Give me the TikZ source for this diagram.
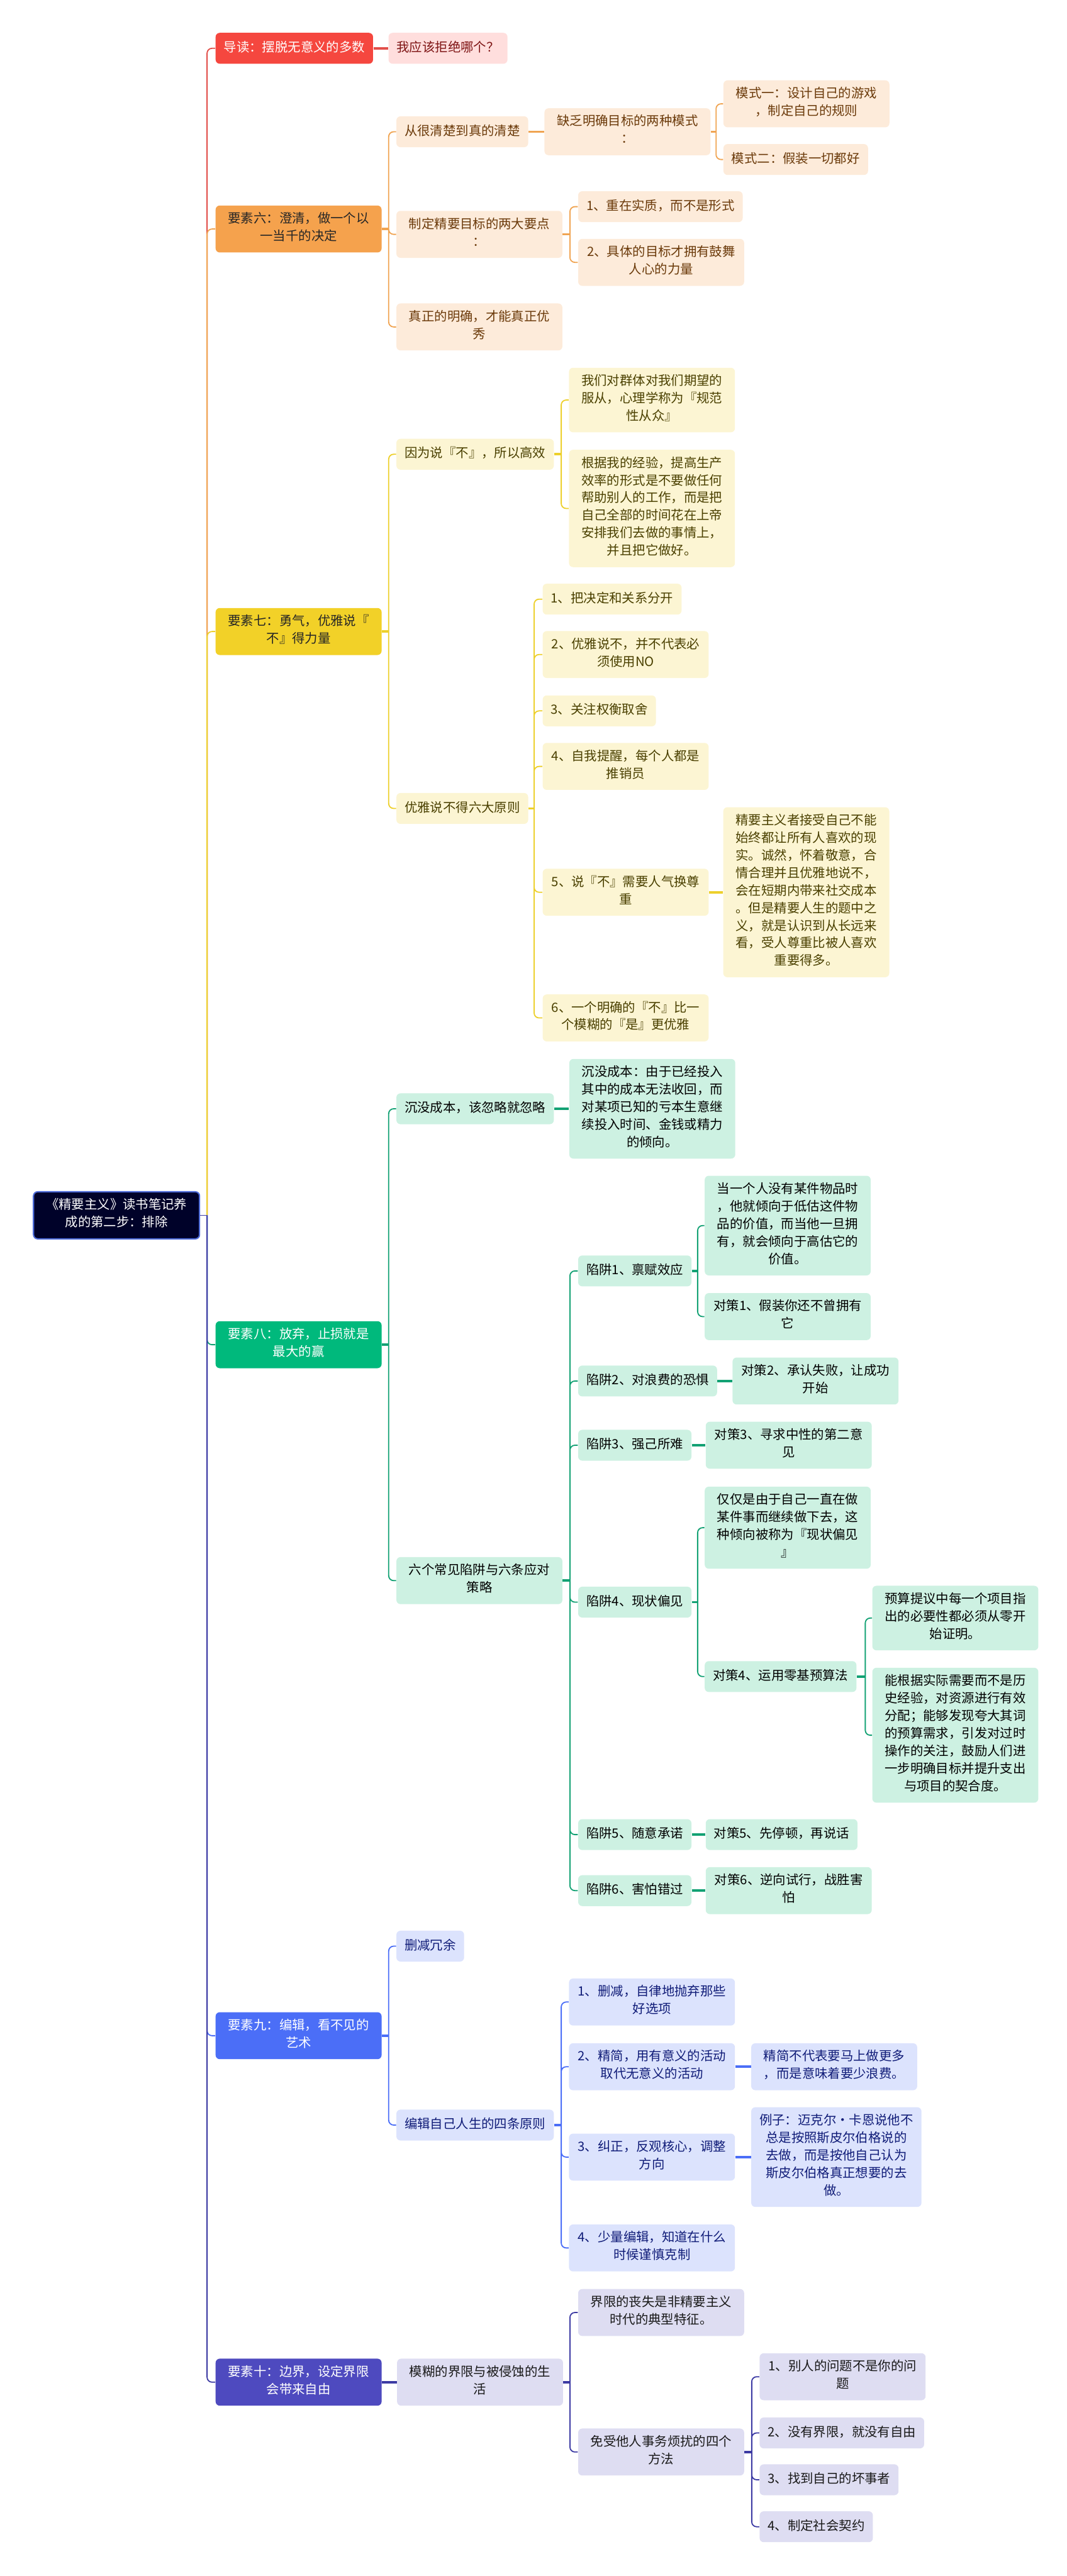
\documentclass[tikz,border=0pt]{standalone}
\usepackage{fontspec}
\setmainfont{Noto Sans CJK SC}
\usetikzlibrary{positioning}
\definecolor{cRoot}{HTML}{000229}
\definecolor{cRootB}{HTML}{4D6BD8}
\definecolor{cRed}{HTML}{F5473F}
\definecolor{cRedL}{HTML}{FFDEDD}
\definecolor{cRedT}{HTML}{7E1414}
\definecolor{cRedD}{HTML}{E24F4A}
\definecolor{cOra}{HTML}{F5A24D}
\definecolor{cOraL}{HTML}{FDEBDA}
\definecolor{cOraT}{HTML}{6B3A0A}
\definecolor{cOraD}{HTML}{F0A452}
\definecolor{cYel}{HTML}{F2D128}
\definecolor{cYelL}{HTML}{FCF5D3}
\definecolor{cYelT}{HTML}{4A4000}
\definecolor{cYelD}{HTML}{EDD02C}
\definecolor{cGrn}{HTML}{00B97C}
\definecolor{cGrnL}{HTML}{CDF1E2}
\definecolor{cGrnD}{HTML}{12A173}
\definecolor{cBlu}{HTML}{4B6EF7}
\definecolor{cBluL}{HTML}{DCE3FD}
\definecolor{cBluT}{HTML}{101C78}
\definecolor{cInd}{HTML}{4E4ABF}
\definecolor{cIndL}{HTML}{DEDDF2}
\definecolor{cIndD}{HTML}{3C3AA3}
\newcommand{\mapfont}{\fontsize{7.8}{10.7}\selectfont}

\begin{document}
\begin{tikzpicture}[
            x=1pt, y=-1pt,
            node distance=9pt,
            box/.style={rectangle, rounded corners=2.5pt, anchor=west, align=center,
                        inner xsep=5pt, inner ysep=4.05pt, font=\mapfont,
                        execute at begin node=\strut, execute at end node=\strut},
            wide/.style={minimum width=101pt},
            rootbox/.style={box, wide, fill=cRoot, draw=cRootB, line width=0.8pt, text=white},
            main0/.style={box, fill=cRed, text=white},
            main6/.style={box, wide, fill=cOra, text=black!85},
            main7/.style={box, wide, fill=cYel, text=black!85},
            main8/.style={box, wide, fill=cGrn, text=white},
            main9/.style={box, wide, fill=cBlu, text=white},
            main10/.style={box, wide, fill=cInd, text=white},
            kid0/.style={box, fill=cRedL, text=cRedT},
            kid6/.style={box, fill=cOraL, text=cOraT},
            kid7/.style={box, fill=cYelL, text=cYelT},
            kid8/.style={box, fill=cGrnL, text=black},
            kid9/.style={box, fill=cBluL, text=cBluT},
            kid10/.style={box, fill=cIndL, text=black!90},
            ln0/.style={draw=cRedD, line width=0.7pt, rounded corners=3pt},
            ln6/.style={draw=cOraD, line width=0.7pt, rounded corners=3pt},
            ln7/.style={draw=cYelD, line width=0.7pt, rounded corners=3pt},
            ln8/.style={draw=cGrnD, line width=0.7pt, rounded corners=3pt},
            ln9/.style={draw=cBlu, line width=0.7pt, rounded corners=3pt},
            ln10/.style={draw=cIndD, line width=0.7pt, rounded corners=3pt},
            stub0/.style={draw=cRedD, line width=1.4pt},
            stub6/.style={draw=cOraD, line width=1.4pt},
            stub7/.style={draw=cYelD, line width=1.4pt},
            stub8/.style={draw=cGrnD, line width=1.4pt},
            stub9/.style={draw=cBlu, line width=1.4pt},
            stub10/.style={draw=cIndD, line width=1.4pt}
        ]
            \useasboundingbox (0,0) rectangle (649,1568);

            \node[rootbox] (root) at (20,739.75) {《精要主义》读书笔记养\\成的第二步：排除};
            \coordinate (tr) at (126,739.75);

            \node[main0] (intro) at (131,29.4) {导读：摆脱无意义的多数};
            \node[kid0, right=of intro] (ask) {我应该拒绝哪个？};

            \node[main6] (e6) at (131,139.4) {要素六：澄清，做一个以\\一当千的决定};
            \node[kid6] (clear) at (241,80.2) {从很清楚到真的清楚};
            \node[kid6, wide, right=9.5pt of clear] (lack) {缺乏明确目标的两种模式\\：};
            \node[kid6, wide] (mode1) at (440,63.2) {模式一：设计自己的游戏\\，制定自己的规则};
            \node[kid6] (mode2) at (440,97.1) {模式二：假装一切都好};
            \node[kid6, wide] (keys) at (241,142.65) {制定精要目标的两大要点\\：};
            \node[kid6] (key1) at (351.6,125.8) {1、重在实质，而不是形式};
            \node[kid6, wide] (key2) at (351.6,159.7) {2、具体的目标才拥有鼓舞\\人心的力量};
            \node[kid6, wide] (truly) at (241,199) {真正的明确，才能真正优\\秀};

            \node[main7] (e7) at (131,384.4) {要素七：勇气，优雅说『\\不』得力量};
            \node[kid7] (because) at (241,276.5) {因为说『不』，所以高效};
            \node[kid7, wide] (conform) at (346,243.5) {我们对群体对我们期望的\\服从，心理学称为『规范\\性从众』};
            \node[kid7, wide] (godwork) at (346,309.5) {根据我的经验，提高生产\\效率的形式是不要做任何\\帮助别人的工作，而是把\\自己全部的时间花在上帝\\安排我们去做的事情上，\\并且把它做好。};
            \node[kid7] (rules) at (241,492.1) {优雅说不得六大原则};
            \node[kid7] (rule1) at (330,364.7) {1、把决定和关系分开};
            \node[kid7, wide] (rule2) at (330,398.4) {2、优雅说不，并不代表必\\须使用NO};
            \node[kid7] (rule3) at (330,432.7) {3、关注权衡取舍};
            \node[kid7, wide] (rule4) at (330,466.5) {4、自我提醒，每个人都是\\推销员};
            \node[kid7, wide] (rule5) at (330,543.1) {5、说『不』需要人气换尊\\重};
            \node[kid7, wide, right=8.5pt of rule5] (respect) {精要主义者接受自己不能\\始终都让所有人喜欢的现\\实。诚然，怀着敬意，合\\情合理并且优雅地说不，\\会在短期内带来社交成本\\。但是精要人生的题中之\\义，就是认识到从长远来\\看，受人尊重比被人喜欢\\重要得多。};
            \node[kid7, wide] (rule6) at (330,619.6) {6、一个明确的『不』比一\\个模糊的『是』更优雅};

            \node[main8] (e8) at (131,818.5) {要素八：放弃，止损就是\\最大的赢};
            \node[kid8] (sunk) at (241,674.9) {沉没成本，该忽略就忽略};
            \node[kid8, wide, right=of sunk] (sunkdef) {沉没成本：由于已经投入\\其中的成本无法收回，而\\对某项已知的亏本生意继\\续投入时间、金钱或精力\\的倾向。};
            \node[kid8, wide] (traps) at (241,962.1) {六个常见陷阱与六条应对\\策略};
            \node[kid8] (trap1) at (351.6,773.6) {陷阱1、禀赋效应};
            \node[kid8, wide] (endow) at (428.6,746) {当一个人没有某件物品时\\，他就倾向于低估这件物\\品的价值，而当他一旦拥\\有，就会倾向于高估它的\\价值。};
            \node[kid8, wide] (fix1) at (428.6,801.4) {对策1、假装你还不曾拥有\\它};
            \node[kid8] (trap2) at (351.6,840.6) {陷阱2、对浪费的恐惧};
            \node[kid8, wide, right=of trap2] (fix2) {对策2、承认失败，让成功\\开始};
            \node[kid8] (trap3) at (351.6,879.7) {陷阱3、强己所难};
            \node[kid8, wide, right=8.3pt of trap3] (fix3) {对策3、寻求中性的第二意\\见};
            \node[kid8] (trap4) at (351.6,975.2) {陷阱4、现状偏见};
            \node[kid8, wide] (statusquo) at (428.6,929.9) {仅仅是由于自己一直在做\\某件事而继续做下去，这\\种倾向被称为『现状偏见\\』};
            \node[kid8] (fix4) at (428.6,1020.5) {对策4、运用零基预算法};
            \node[kid8, wide] (zb1) at (530.6,984.9) {预算提议中每一个项目指\\出的必要性都必须从零开\\始证明。};
            \node[kid8, wide] (zb2) at (530.6,1056.2) {能根据实际需要而不是历\\史经验，对资源进行有效\\分配；能够发现夸大其词\\的预算需求，引发对过时\\操作的关注，鼓励人们进\\一步明确目标并提升支出\\与项目的契合度。};
            \node[kid8] (trap5) at (351.6,1116.7) {陷阱5、随意承诺};
            \node[kid8, right=8.3pt of trap5] (fix5) {对策5、先停顿，再说话};
            \node[kid8] (trap6) at (351.6,1150.8) {陷阱6、害怕错过};
            \node[kid8, wide, right=8.3pt of trap6] (fix6) {对策6、逆向试行，战胜害\\怕};

            \node[main9] (e9) at (131,1239.1) {要素九：编辑，看不见的\\艺术};
            \node[kid9] (trim) at (241,1184.6) {删减冗余};
            \node[kid9] (editrules) at (241,1293.5) {编辑自己人生的四条原则};
            \node[kid9, wide] (edit1) at (346,1218.6) {1、删减，自律地抛弃那些\\好选项};
            \node[kid9, wide] (edit2) at (346,1258) {2、精简，用有意义的活动\\取代无意义的活动};
            \node[kid9, wide, right=9.5pt of edit2] (lesswaste) {精简不代表要马上做更多\\，而是意味着要少浪费。};
            \node[kid9, wide] (edit3) at (346,1313) {3、纠正，反观核心，调整\\方向};
            \node[kid9, wide, right=9.5pt of edit3] (kahn) {例子：迈克尔·卡恩说他不\\总是按照斯皮尔伯格说的\\去做，而是按他自己认为\\斯皮尔伯格真正想要的去\\做。};
            \node[kid9, wide] (edit4) at (346,1368.3) {4、少量编辑，知道在什么\\时候谨慎克制};

            \node[main10] (e10) at (131,1450) {要素十：边界，设定界限\\会带来自由};
            \node[kid10, wide, right=of e10] (blur) {模糊的界限与被侵蚀的生\\活};
            \node[kid10, wide] (loss) at (351.6,1407.6) {界限的丧失是非精要主义\\时代的典型特征。};
            \node[kid10, wide] (methods) at (351.6,1492.5) {免受他人事务烦扰的四个\\方法};
            \node[kid10, wide] (way1) at (462,1446.7) {1、别人的问题不是你的问\\题};
            \node[kid10] (way2) at (462,1480.9) {2、没有界限，就没有自由};
            \node[kid10] (way3) at (462,1509.4) {3、找到自己的坏事者};
            \node[kid10] (way4) at (462,1538) {4、制定社会契约};

            \coordinate (j6) at (236.5,139.4);
            \coordinate (jl) at (435.7,80.2);
            \coordinate (jk) at (346.8,142.65);
            \coordinate (j7) at (236.5,384.4);
            \coordinate (jb) at (341.5,276.5);
            \coordinate (jr) at (325,492.1);
            \coordinate (j8) at (236.5,818.5);
            \coordinate (jt) at (346.8,962.1);
            \coordinate (jt1) at (424.5,773.6);
            \coordinate (jt4) at (424.5,975.2);
            \coordinate (jz) at (526.5,1020.5);
            \coordinate (j9) at (236.5,1239.1);
            \coordinate (je) at (341.5,1293.5);
            \coordinate (jf) at (346.8,1450);
            \coordinate (jm) at (457.4,1492.5);

            \draw[ln10] (root.east) -- (tr);
            \draw[ln0] (tr) |- (intro.west);
            \draw[ln6] (tr) |- (e6.west);
            \draw[ln7] (tr) |- (e7.west);
            \draw[ln8] (tr) |- (e8.west);
            \draw[ln9] (tr) |- (e9.west);
            \draw[ln10] (tr) |- (e10.west);

            \draw[stub0] (intro.east) -- (ask.west);

            \draw[stub6] (e6.east) -- (j6);
            \draw[ln6] (j6) |- (clear.west) (j6) |- (keys.west) (j6) |- (truly.west);
            \draw[stub6] (clear.east) -- (lack.west);
            \draw[stub6] (lack.east) -- (jl);
            \draw[ln6] (jl) |- (mode1.west) (jl) |- (mode2.west);
            \draw[stub6] (keys.east) -- (jk);
            \draw[ln6] (jk) |- (key1.west) (jk) |- (key2.west);

            \draw[stub7] (e7.east) -- (j7);
            \draw[ln7] (j7) |- (because.west) (j7) |- (rules.west);
            \draw[stub7] (because.east) -- (jb);
            \draw[ln7] (jb) |- (conform.west) (jb) |- (godwork.west);
            \draw[stub7] (rules.east) -- (jr);
            \draw[ln7] (jr) |- (rule1.west) (jr) |- (rule2.west) (jr) |- (rule3.west)
                       (jr) |- (rule4.west) (jr) |- (rule5.west) (jr) |- (rule6.west);
            \draw[stub7] (rule5.east) -- (respect.west);

            \draw[stub8] (e8.east) -- (j8);
            \draw[ln8] (j8) |- (sunk.west) (j8) |- (traps.west);
            \draw[stub8] (sunk.east) -- (sunkdef.west);
            \draw[stub8] (traps.east) -- (jt);
            \draw[ln8] (jt) |- (trap1.west) (jt) |- (trap2.west) (jt) |- (trap3.west)
                       (jt) |- (trap4.west) (jt) |- (trap5.west) (jt) |- (trap6.west);
            \draw[stub8] (trap1.east) -- (jt1);
            \draw[ln8] (jt1) |- (endow.west) (jt1) |- (fix1.west);
            \draw[stub8] (trap2.east) -- (fix2.west);
            \draw[stub8] (trap3.east) -- (fix3.west);
            \draw[stub8] (trap4.east) -- (jt4);
            \draw[ln8] (jt4) |- (statusquo.west) (jt4) |- (fix4.west);
            \draw[stub8] (fix4.east) -- (jz);
            \draw[ln8] (jz) |- (zb1.west) (jz) |- (zb2.west);
            \draw[stub8] (trap5.east) -- (fix5.west);
            \draw[stub8] (trap6.east) -- (fix6.west);

            \draw[stub9] (e9.east) -- (j9);
            \draw[ln9] (j9) |- (trim.west) (j9) |- (editrules.west);
            \draw[stub9] (editrules.east) -- (je);
            \draw[ln9] (je) |- (edit1.west) (je) |- (edit2.west) (je) |- (edit3.west) (je) |- (edit4.west);
            \draw[stub9] (edit2.east) -- (lesswaste.west);
            \draw[stub9] (edit3.east) -- (kahn.west);

            \draw[stub10] (e10.east) -- (blur.west);
            \draw[stub10] (blur.east) -- (jf);
            \draw[ln10] (jf) |- (loss.west) (jf) |- (methods.west);
            \draw[stub10] (methods.east) -- (jm);
            \draw[ln10] (jm) |- (way1.west) (jm) |- (way2.west) (jm) |- (way3.west) (jm) |- (way4.west);
        \end{tikzpicture}
\end{document}
